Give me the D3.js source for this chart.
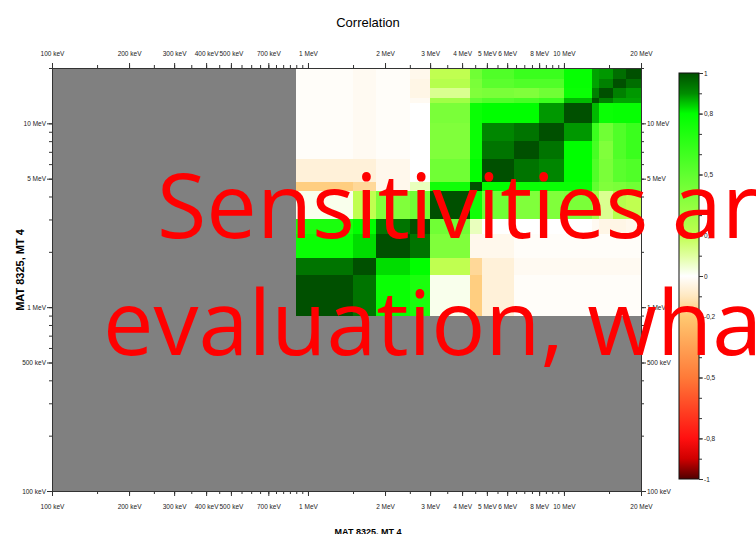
<!DOCTYPE html>
<html lang="en">
<head>
  <meta charset="UTF-8">
  <title>Correlation</title>
  <script src="https://d3js.org/d3.v7.min.js"></script>
  <style>
    body { margin: 0; background: #fff; }
    svg { display: block; overflow: hidden; }
    .tick text { font-family: "Liberation Sans Narrow", "Liberation Sans", Arial, sans-serif; font-size: 6.5px; fill: #222; }
    .domain, .tick line { stroke: #333; }
  </style>
</head>
<body>
  <div id="chart"></div>
  <script>
    // energy group boundaries (MeV)
    const bounds = [0.9, 1.5, 1.85, 2.5, 3, 4.3, 4.8, 6.4, 8, 10, 12.9, 13.7, 15.6, 17.4, 20];

    // correlation matrix, rows from lowest group up
    const corr = [
      [1, 0.94, 0.77, 0.72, 0.02, -0.18, -0.06, -0.01, -0.01, -0.01, -0.01, -0.01, -0.01, -0.01],
      [0.94, 1, 0.83, 0.8, 0.2, -0.15, -0.06, -0.02, -0.02, -0.02, -0.02, -0.02, -0.02, -0.02],
      [0.77, 0.83, 1, 0.94, 0.4, -0.03, -0.03, -0.01, -0.01, -0.01, -0.01, -0.01, -0.01, -0.01],
      [0.72, 0.8, 0.94, 1, 0.45, 0.07, 0, 0, 0, 0, -0.02, -0.04, -0.04, -0.03],
      [0.02, 0.2, 0.4, 0.45, 1, 0.75, 0.45, 0.4, 0.4, 0.42, 0.3, 0.12, 0.23, 0.2],
      [-0.18, -0.15, -0.03, 0.07, 0.75, 1, 0.8, 0.77, 0.77, 0.77, 0.5, 0.4, 0.42, 0.45],
      [-0.06, -0.06, -0.03, 0, 0.45, 0.8, 1, 0.94, 0.91, 0.8, 0.55, 0.42, 0.52, 0.55],
      [-0.01, -0.02, -0.01, 0, 0.4, 0.77, 0.94, 1, 0.94, 0.8, 0.58, 0.4, 0.55, 0.62],
      [-0.01, -0.02, -0.01, 0, 0.4, 0.77, 0.91, 0.94, 1, 0.89, 0.62, 0.45, 0.55, 0.62],
      [-0.01, -0.02, -0.01, 0, 0.42, 0.77, 0.8, 0.8, 0.89, 1, 0.86, 0.77, 0.78, 0.78],
      [-0.01, -0.02, -0.01, -0.02, 0.3, 0.5, 0.55, 0.58, 0.62, 0.86, 1, 0.92, 0.88, 0.88],
      [-0.01, -0.02, -0.01, -0.04, 0.12, 0.4, 0.42, 0.4, 0.45, 0.77, 0.92, 1, 0.92, 0.89],
      [-0.01, -0.02, -0.01, -0.04, 0.23, 0.42, 0.52, 0.55, 0.55, 0.78, 0.88, 0.92, 1, 0.95],
      [-0.01, -0.02, -0.01, -0.03, 0.2, 0.45, 0.55, 0.62, 0.62, 0.78, 0.88, 0.89, 0.95, 1]
    ];

    // axis ticks (MeV)
    const xTicks = [0.1, 0.15, 0.2, 0.25, 0.3, 0.35, 0.4, 0.45, 0.5, 0.55, 0.6, 0.65, 0.7, 0.75, 0.8, 0.85, 0.9, 0.95,
                    1, 1.5, 2, 2.5, 3, 3.5, 4, 4.5, 5, 5.5, 6, 6.5, 7, 7.5, 8, 8.5, 9, 9.5, 10, 15, 20];
    const xLabels = [0.1, 0.2, 0.3, 0.4, 0.5, 0.7, 1, 2, 3, 4, 5, 6, 8, 10, 20];
    const yTicks = [0.1, 0.2, 0.3, 0.4, 0.5, 0.6, 0.7, 0.8, 0.9, 1, 2, 3, 4, 5, 6, 7, 8, 9, 10, 20];
    const yLabels = [0.1, 0.5, 1, 5, 10];

    // colour bar
    const colorStops = [-1, -0.9, -0.8, -0.5, -0.2, -0.1, 0, 0.1, 0.2, 0.5, 0.8, 0.9, 1];
    const colorValues = ["#500000", "#d00000", "#ff1010", "#ff7a38", "#ffc870", "#ffe8c0", "#ffffff",
                         "#e0ffa0", "#c0ff50", "#60ff30", "#00ff00", "#008c00", "#005000"];
    const barLabels = [1, 0.8, 0.5, 0.2, 0, -0.2, -0.5, -0.8, -1];
    const barTicks = d3.range(-10, 11).map(d => d / 10);

    const width = 756, height = 534;
    const svg = d3.select("#chart").append("svg")
      .attr("width", width).attr("height", height);

    const x = d3.scaleLog().domain([0.1, 20]).range([52, 641]);
    const y = d3.scaleLog().domain([0.1, 20]).range([491, 68]);
    const color = d3.scaleLinear().domain(colorStops).range(colorValues);

    const fmtE = d => d < 1 ? `${Math.round(d * 1000)} keV` : `${d} MeV`;

    // grey background of the plot area
    svg.append("rect")
      .attr("x", x(0.1)).attr("y", y(20))
      .attr("width", x(20) - x(0.1)).attr("height", y(0.1) - y(20))
      .attr("fill", "#808080");

    // cells
    const cells = [];
    corr.forEach((row, i) => row.forEach((v, j) => cells.push({ i, j, v })));
    svg.append("g").attr("shape-rendering", "crispEdges")
      .selectAll("rect").data(cells).enter().append("rect")
      .attr("x", d => x(bounds[d.j]))
      .attr("y", d => y(bounds[d.i + 1]))
      .attr("width", d => x(bounds[d.j + 1]) - x(bounds[d.j]))
      .attr("height", d => y(bounds[d.i]) - y(bounds[d.i + 1]))
      .attr("fill", d => color(d.v));

    // axes: minor ticks first, then labelled ones
    function drawAxis(axisFn, scale, ticks, labels, transform, pad) {
      svg.append("g").attr("transform", transform)
        .call(axisFn(scale).tickValues(ticks).tickSize(3).tickSizeOuter(0).tickFormat(""));
      svg.append("g").attr("transform", transform)
        .call(axisFn(scale).tickValues(labels).tickSize(5).tickSizeOuter(0).tickPadding(pad).tickFormat(fmtE));
    }
    drawAxis(d3.axisTop, x, xTicks, xLabels, `translate(0,${y(20)})`, 7);
    drawAxis(d3.axisBottom, x, xTicks, xLabels, `translate(0,${y(0.1)})`, 8);
    drawAxis(d3.axisLeft, y, yTicks, yLabels, `translate(${x(0.1)},0)`, 1);
    drawAxis(d3.axisRight, y, yTicks, yLabels, `translate(${x(20)},0)`, 1);

    // titles
    svg.append("text")
      .attr("x", 368).attr("y", 27)
      .attr("text-anchor", "middle")
      .attr("font-family", "'Liberation Sans Narrow', 'Liberation Sans', Arial, sans-serif")
      .attr("font-size", 13)
      .text("Correlation");

    svg.append("text")
      .attr("transform", "translate(24,270) rotate(-90)")
      .attr("text-anchor", "middle")
      .attr("font-family", "'Liberation Sans', Arial, sans-serif")
      .attr("font-weight", "bold")
      .attr("font-size", 11)
      .text("MAT 8325, MT 4");

    svg.append("text")
      .attr("x", 368).attr("y", 535)
      .attr("text-anchor", "middle")
      .attr("font-family", "'Liberation Sans Narrow', 'Liberation Sans', Arial, sans-serif")
      .attr("font-weight", "bold")
      .attr("font-size", 9)
      .text("MAT 8325, MT 4");

    // colour bar
    const cb = d3.scaleLinear().domain([-1, 1]).range([479, 73]);
    const grad = svg.append("defs").append("linearGradient")
      .attr("id", "cbar").attr("x1", 0).attr("y1", 1).attr("x2", 0).attr("y2", 0);
    grad.selectAll("stop").data(colorStops).enter().append("stop")
      .attr("offset", d => (d + 1) / 2)
      .attr("stop-color", d => color(d));
    svg.append("rect")
      .attr("x", 679).attr("y", cb(1))
      .attr("width", 20).attr("height", cb(-1) - cb(1))
      .attr("fill", "url(#cbar)")
      .attr("stroke", "#111").attr("stroke-width", 1);
    svg.append("g").attr("transform", "translate(699,0)")
      .call(d3.axisRight(cb).tickValues(barTicks).tickSize(3).tickSizeOuter(0).tickFormat(""))
      .call(g => g.select(".domain").remove());
    svg.append("g").attr("transform", "translate(699,0)")
      .call(d3.axisRight(cb).tickValues(barLabels).tickSize(4).tickPadding(1)
        .tickFormat(d => String(d).replace(".", ",")))
      .call(g => g.select(".domain").remove());

    // overlay message
    const msg = svg.append("text")
      .attr("font-family", "'Open Sans', 'Noto Sans', sans-serif")
      .attr("font-size", 90)
      .attr("fill", "#ff0000");
    msg.append("tspan").attr("x", 157).attr("y", 238).text("Sensitivities are");
    msg.append("tspan").attr("x", 103).attr("y", 355).text("evaluation, what");
  </script>
</body>
</html>
